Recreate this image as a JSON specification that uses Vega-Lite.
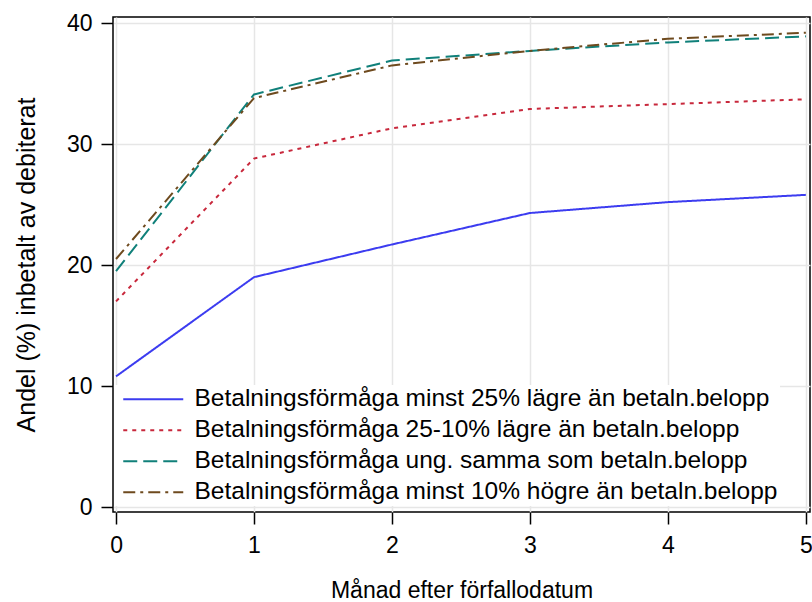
{
  "$schema": "https://vega.github.io/schema/vega-lite/v6.json",
  "width": 697,
  "height": 495,
  "autosize": {"type": "none"},
  "padding": {"left": 113, "top": 17, "right": 2, "bottom": 90},
  "background": "white",
  "config": {
    "font": "Liberation Sans",
    "view": {"stroke": "black", "strokeWidth": 1.5},
    "axis": {
      "labelFont": "Liberation Sans",
      "titleFont": "Liberation Sans",
      "labelFontSize": 23,
      "titleFontSize": 23,
      "titleFontWeight": "normal",
      "labelColor": "black",
      "titleColor": "black",
      "tickColor": "black",
      "tickWidth": 1.5,
      "tickSize": 12,
      "domain": false,
      "gridColor": "#e6e6e6",
      "gridWidth": 1.5
    }
  },
  "data": {
    "values": [
      {"m": 0, "s": "Betalningsförmåga minst 25% lägre än betaln.belopp", "v": 10.8},
      {"m": 1, "s": "Betalningsförmåga minst 25% lägre än betaln.belopp", "v": 19.0},
      {"m": 2, "s": "Betalningsförmåga minst 25% lägre än betaln.belopp", "v": 21.7},
      {"m": 3, "s": "Betalningsförmåga minst 25% lägre än betaln.belopp", "v": 24.3},
      {"m": 4, "s": "Betalningsförmåga minst 25% lägre än betaln.belopp", "v": 25.2},
      {"m": 5, "s": "Betalningsförmåga minst 25% lägre än betaln.belopp", "v": 25.8},
      {"m": 0, "s": "Betalningsförmåga 25-10% lägre än betaln.belopp", "v": 17.0},
      {"m": 1, "s": "Betalningsförmåga 25-10% lägre än betaln.belopp", "v": 28.8},
      {"m": 2, "s": "Betalningsförmåga 25-10% lägre än betaln.belopp", "v": 31.3},
      {"m": 3, "s": "Betalningsförmåga 25-10% lägre än betaln.belopp", "v": 32.9},
      {"m": 4, "s": "Betalningsförmåga 25-10% lägre än betaln.belopp", "v": 33.3},
      {"m": 5, "s": "Betalningsförmåga 25-10% lägre än betaln.belopp", "v": 33.7},
      {"m": 0, "s": "Betalningsförmåga ung. samma som betaln.belopp", "v": 19.5},
      {"m": 1, "s": "Betalningsförmåga ung. samma som betaln.belopp", "v": 34.1},
      {"m": 2, "s": "Betalningsförmåga ung. samma som betaln.belopp", "v": 36.9},
      {"m": 3, "s": "Betalningsförmåga ung. samma som betaln.belopp", "v": 37.7},
      {"m": 4, "s": "Betalningsförmåga ung. samma som betaln.belopp", "v": 38.4},
      {"m": 5, "s": "Betalningsförmåga ung. samma som betaln.belopp", "v": 38.9},
      {"m": 0, "s": "Betalningsförmåga minst 10% högre än betaln.belopp", "v": 20.5},
      {"m": 1, "s": "Betalningsförmåga minst 10% högre än betaln.belopp", "v": 33.8},
      {"m": 2, "s": "Betalningsförmåga minst 10% högre än betaln.belopp", "v": 36.5},
      {"m": 3, "s": "Betalningsförmåga minst 10% högre än betaln.belopp", "v": 37.7},
      {"m": 4, "s": "Betalningsförmåga minst 10% högre än betaln.belopp", "v": 38.7},
      {"m": 5, "s": "Betalningsförmåga minst 10% högre än betaln.belopp", "v": 39.2}
    ]
  },
  "mark": {"type": "line", "strokeWidth": 2},
  "encoding": {
    "x": {
      "field": "m",
      "type": "quantitative",
      "scale": {"domain": [-0.022, 5.03], "nice": false, "zero": false},
      "axis": {"values": [0, 1, 2, 3, 4, 5], "title": "Månad efter förfallodatum", "labelPadding": 10, "titlePadding": 22, "format": "d"}
    },
    "y": {
      "field": "v",
      "type": "quantitative",
      "scale": {"domain": [-0.41, 40.5], "nice": false, "zero": false},
      "axis": {"values": [0, 10, 20, 30, 40], "title": "Andel (%) inbetalt av debiterat", "titleFontSize": 25, "labelPadding": 9, "titlePadding": 27}
    },
    "color": {
      "field": "s",
      "type": "nominal",
      "scale": {
        "domain": ["Betalningsförmåga minst 25% lägre än betaln.belopp", "Betalningsförmåga 25-10% lägre än betaln.belopp", "Betalningsförmåga ung. samma som betaln.belopp", "Betalningsförmåga minst 10% högre än betaln.belopp"],
        "range": ["#3c3cf0", "#c8283c", "#10807a", "#6e4a1e"]
      },
      "legend": {
        "title": null,
        "orient": "none",
        "legendX": 1,
        "legendY": 368,
        "symbolType": "M-1,0H11",
        "symbolSize": 100,
        "symbolStrokeWidth": 2,
        "labelFontSize": 24.5,
        "labelFont": "Liberation Sans",
        "labelColor": "black",
        "labelLimit": 700,
        "rowPadding": 6,
        "labelOffset": 54,
        "fillColor": "white",
        "padding": 2
      }
    },
    "strokeDash": {
      "field": "s",
      "type": "nominal",
      "scale": {
        "domain": ["Betalningsförmåga minst 25% lägre än betaln.belopp", "Betalningsförmåga 25-10% lägre än betaln.belopp", "Betalningsförmåga ung. samma som betaln.belopp", "Betalningsförmåga minst 10% högre än betaln.belopp"],
        "range": [[1, 0], [4, 5], [14, 6], [12, 5, 3, 5]]
      },
      "legend": null
    }
  }
}
